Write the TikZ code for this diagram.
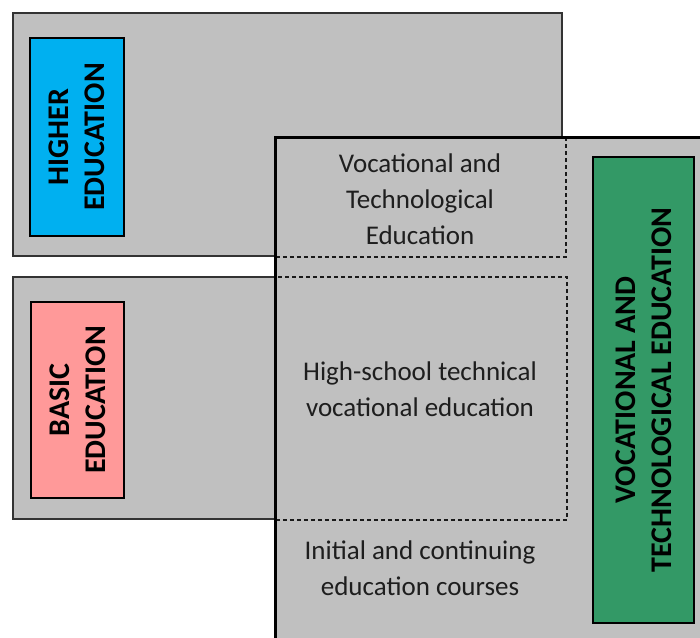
\documentclass[tikz,border=0pt]{standalone}
\usepackage{fontspec}
\setmainfont{Carlito}
\usetikzlibrary{positioning}
\definecolor{boxgray}{RGB}{192,192,192}
\definecolor{higherblue}{RGB}{0,176,240}
\definecolor{basicpink}{RGB}{255,153,153}
\definecolor{vocgreen}{RGB}{51,153,102}
\definecolor{textgray}{RGB}{30,30,30}
\tikzset{
	levelbox/.style={draw=black!80, line width=2.2pt, fill=boxgray, anchor=north west, inner sep=0pt},
	tagbox/.style={draw=black, line width=1.1pt, rotate=90, inner sep=0pt, align=center,
		font=\fontsize{30}{36}\selectfont\bfseries},
	coursebox/.style={draw=black!90, dash pattern=on 4pt off 3pt, line width=1.6pt, anchor=north west, inner sep=0pt},
	coursetext/.style={align=center, text=textgray, font=\fontsize{27}{36}\selectfont},
}
\begin{document}
\begin{tikzpicture}[x=1pt,y=-1pt]
	\useasboundingbox (0,0) rectangle (700,637);
	\clip (0,0) rectangle (700,637);
	% the two school levels
	\node[levelbox, minimum width=549, minimum height=243] (higherlevel) at (12,12) {};
	\node[levelbox, minimum width=300, minimum height=242] (basiclevel) at (12,276) {};
	\node[tagbox, fill=higherblue, minimum width=198, minimum height=94] (higher) at (77,137) {HIGHER\\EDUCATION};
	\node[tagbox, fill=basicpink, minimum width=196, minimum height=93] (basic) at (77.5,400) {BASIC\\EDUCATION};
	% vocational block on top
	\node[fill=boxgray, anchor=north west, inner sep=0pt, minimum width=440, minimum height=510] (voc) at (275,137) {};
	\node[coursebox, minimum width=290, minimum height=119] (vte) at (275,137) {};
	\node[coursebox, minimum width=291, minimum height=243] (hstve) at (275,276) {};
	\draw[line width=3pt] (voc.north west) rectangle (voc.south east);
	\node[coursetext] (vtetext) at (420,199) {Vocational and\\Technological\\Education};
	\node[coursetext] (hstvetext) at (420,389) {High-school technical\\vocational education};
	\node[coursetext] (coursestext) at (420,568) {Initial and continuing\\education courses};
	\node[tagbox, fill=vocgreen, minimum width=466, minimum height=101] (vocational) at (643.5,390) {VOCATIONAL AND\\TECHNOLOGICAL EDUCATION};
\end{tikzpicture}
\end{document}
